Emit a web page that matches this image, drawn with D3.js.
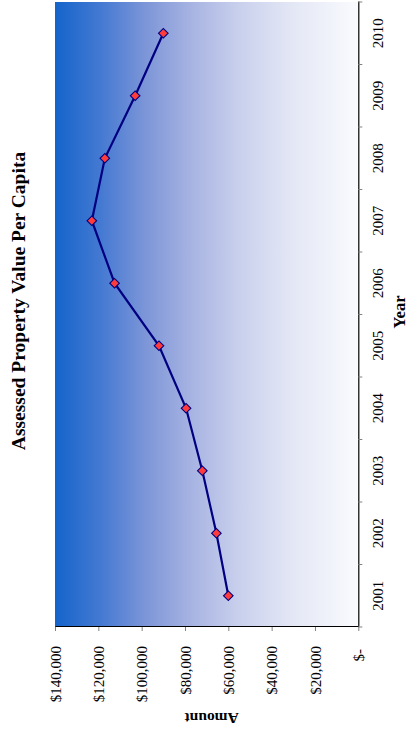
<!DOCTYPE html>
<html>
<head>
<meta charset="utf-8">
<script src="https://cdn.jsdelivr.net/npm/d3@7"></script>
<style>
  html, body { margin: 0; padding: 0; background: #fff; }
  svg { display: block; }
  text { font-family: "Liberation Serif", "Times New Roman", serif; fill: #000; }
</style>
</head>
<body>
<script>
// Assessed property value per capita, by year
const years = ["2001", "2002", "2003", "2004", "2005", "2006", "2007", "2008", "2009", "2010"];
const values = [60000, 65500, 72000, 79500, 92000, 112500, 123000, 117000, 103000, 90000];
const amountTicks = [0, 20000, 40000, 60000, 80000, 100000, 120000, 140000];

const screenW = 417, screenH = 729;
// The chart is laid out landscape and then turned a quarter turn counter-clockwise
const plot = { left: 102, right: 727, top: 55, bottom: 358.3 };

const svg = d3.select("body").append("svg")
  .attr("width", screenW).attr("height", screenH);

const g = svg.append("g")
  .attr("transform", `translate(0,${screenH}) rotate(-90)`);

const defs = svg.append("defs");
const grad = defs.append("linearGradient")
  .attr("id", "plotFill")
  .attr("x1", 0).attr("y1", 0).attr("x2", 0).attr("y2", 1);
[
  [0.00, "#1464CB"],
  [0.15, "#4479D2"],
  [0.30, "#7D96D8"],
  [0.45, "#A7B3E2"],
  [0.60, "#C8CFEC"],
  [0.78, "#E3E7F5"],
  [1.00, "#FAFBFE"]
].forEach(([o, c]) => grad.append("stop").attr("offset", o).attr("stop-color", c));

const x = d3.scaleBand().domain(years).range([plot.left, plot.right]);
const y = d3.scaleLinear().domain([0, 140000]).range([plot.bottom, plot.top]);

// plot background
g.append("rect")
  .attr("x", plot.left).attr("y", plot.top)
  .attr("width", plot.right - plot.left).attr("height", plot.bottom - plot.top)
  .attr("fill", "url(#plotFill)");

const fmtAmount = v => v === 0 ? "$-" : "$" + d3.format(",")(v);

// value axis
const yAxis = g.append("g")
  .attr("transform", `translate(${plot.left},0)`)
  .call(d3.axisLeft(y).tickValues(amountTicks).tickSize(4).tickSizeOuter(0)
    .tickFormat(fmtAmount));
yAxis.select(".domain").attr("stroke", "#000").attr("stroke-width", 1.2);
yAxis.selectAll(".tick line").attr("stroke", "#808080");
yAxis.selectAll(".tick text")
  .attr("x", d => d === 0 ? -22 : -19)
  .attr("dy", "0.34em")
  .style("font-family", '"Liberation Serif", "Times New Roman", serif')
  .style("font-size", "15px");

// category axis
const xAxis = g.append("g")
  .attr("transform", `translate(0,${plot.bottom})`)
  .call(d3.axisBottom(x).tickSize(0).tickSizeOuter(0));
xAxis.select(".domain").attr("stroke", "#000").attr("stroke-width", 1.2);
xAxis.selectAll(".tick text")
  .attr("y", 25).attr("dy", 0)
  .style("font-family", '"Liberation Serif", "Times New Roman", serif')
  .style("font-size", "15px");
// category tick marks sit on band boundaries
const bounds = years.map(d => x(d)).concat([plot.right]);
xAxis.selectAll(".bound")
  .data(bounds)
  .join("line")
  .attr("class", "bound")
  .attr("x1", d => d).attr("x2", d => d)
  .attr("y1", 0).attr("y2", 4)
  .attr("stroke", "#808080");

// series line
const cx = d => x(d) + x.bandwidth() / 2;
g.append("path")
  .datum(years.map((d, i) => [cx(d), y(values[i])]))
  .attr("fill", "none")
  .attr("stroke", "#000080")
  .attr("stroke-width", 2.2)
  .attr("d", d3.line());

// diamond markers
g.selectAll(".marker")
  .data(years)
  .join("path")
  .attr("class", "marker")
  .attr("transform", (d, i) => `translate(${cx(d)},${y(values[i])}) rotate(45)`)
  .attr("d", d3.symbol(d3.symbolSquare, 46)())
  .attr("fill", "#FF3B3B")
  .attr("stroke", "#000080")
  .attr("stroke-width", 1.1);

// titles
g.append("text")
  .attr("x", 428).attr("y", 25)
  .attr("text-anchor", "middle")
  .style("font-weight", "bold")
  .style("font-size", "19.5px")
  .text("Assessed Property Value Per Capita");

g.append("text")
  .attr("x", 417).attr("y", 405)
  .attr("text-anchor", "middle")
  .style("font-weight", "bold")
  .style("font-size", "16.5px")
  .text("Year");

g.append("text")
  .attr("transform", `translate(16,${(plot.top + plot.bottom) / 2 + 5}) rotate(-90)`)
  .attr("text-anchor", "middle")
  .style("font-weight", "bold")
  .style("font-size", "15.5px")
  .text("Amount");
</script>
</body>
</html>
